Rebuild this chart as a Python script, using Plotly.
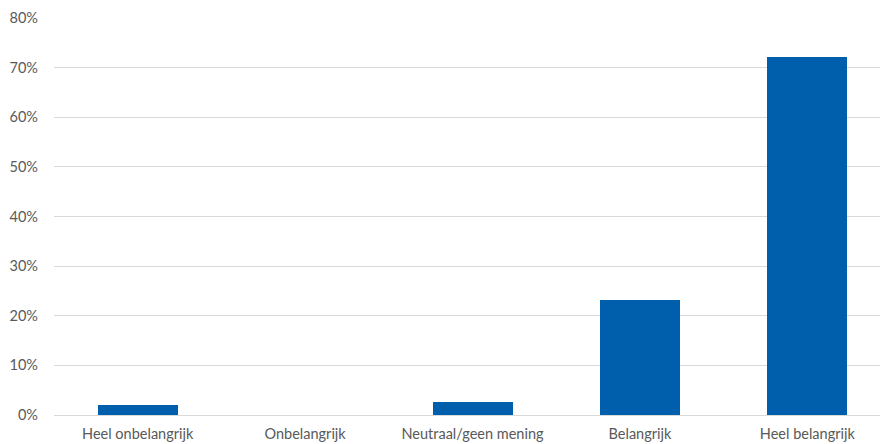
import plotly.graph_objects as go

categories = ["Heel onbelangrijk", "Onbelangrijk", "Neutraal/geen mening", "Belangrijk", "Heel belangrijk"]
values = [0.020, 0.0, 0.026, 0.232, 0.721]
y_ticks = [0, 0.1, 0.2, 0.3, 0.4, 0.5, 0.6, 0.7, 0.8]
y_tick_labels = ["0%", "10%", "20%", "30%", "40%", "50%", "60%", "70%", "80%"]

fig = go.Figure(go.Bar(
    x=list(range(len(categories))), y=values,
    marker=dict(color="#005FAD", line=dict(width=0)),
    width=0.478,
))

fig.update_layout(
    width=880, height=444,
    margin=dict(l=54, r=0, t=18, b=29),
    paper_bgcolor="white", plot_bgcolor="white",
    font=dict(family="Lato, Open Sans, sans-serif", size=14.5, color="#595959"),
    showlegend=False,
    bargap=0,
)
fig.update_xaxes(
    range=[-0.5, 4.434],
    tickvals=list(range(len(categories))), ticktext=categories,
    showgrid=False, showline=False, zeroline=False,
    ticks="", ticklabelstandoff=8, automargin=False,
)
fig.update_yaxes(
    range=[0, 0.8], tickvals=y_ticks, ticktext=y_tick_labels,
    showgrid=True, gridcolor="#D9D9D9", gridwidth=1,
    zeroline=True, zerolinecolor="#D9D9D9", zerolinewidth=1,
    showline=False, ticks="", ticklabelstandoff=15, automargin=False,
)

fig.write_html(
    "out.html",
    config={"displayModeBar": False},
    post_script="document.body.style.margin='0';document.body.style.overflow='hidden';",
)
